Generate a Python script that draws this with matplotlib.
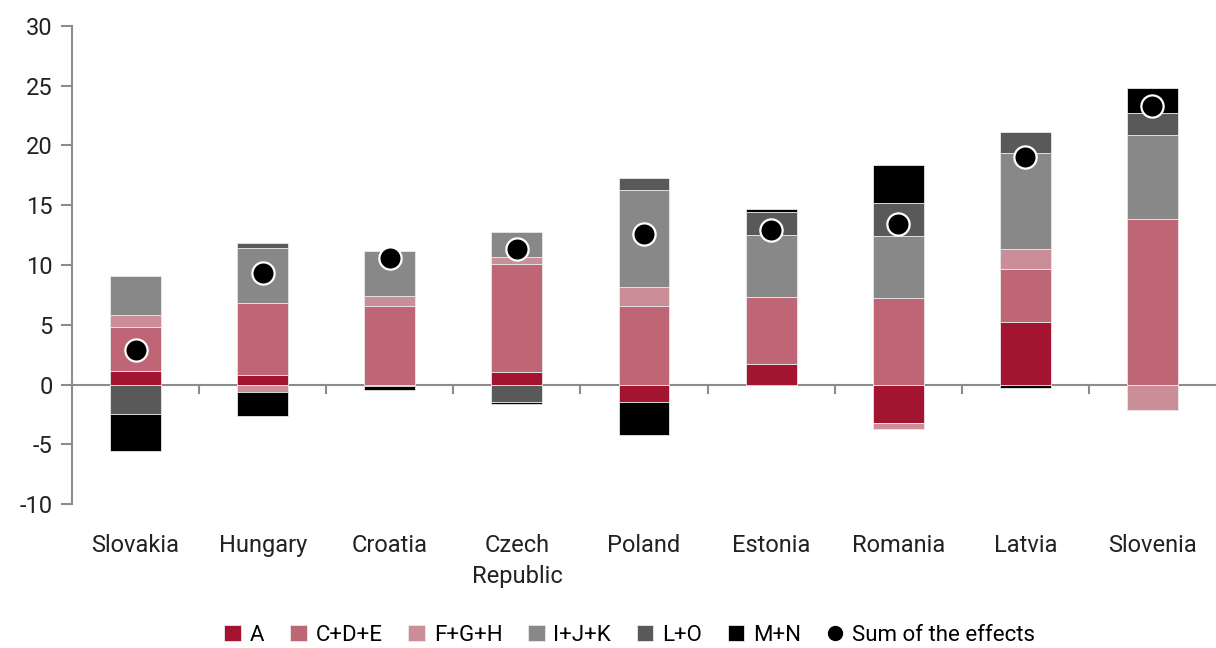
import numpy as np
import matplotlib.pyplot as plt
from matplotlib.lines import Line2D

countries = ['Slovakia', 'Hungary', 'Croatia', 'Czech\nRepublic', 'Poland',
             'Estonia', 'Romania', 'Latvia', 'Slovenia']

a_vals   = [1.1, 0.8, -0.15, 1.05, -1.43, 1.73, -3.24, 5.22, 0.0]
cde_vals = [3.7, 6.05, 6.6, 9.0, 6.57, 5.6, 7.24, 4.42, 13.83]
fgh_vals = [1.0, -0.6, 0.78, 0.65, 1.6, 0.0, -0.48, 1.68, -2.12]
ijk_vals = [3.25, 4.55, 3.75, 2.05, 8.1, 5.17, 5.16, 8.04, 7.04]
lo_vals  = [-2.5, 0.4, 0.0, -1.45, 0.98, 1.95, 2.77, 1.74, 1.82]
mn_vals  = [-3.1, -2.0, -0.3, -0.2, -2.8, 0.2, 3.24, -0.28, 2.16]
sum_vals = [2.9, 9.3, 10.55, 11.3, 12.6, 12.95, 13.4, 19.0, 23.3]

series = ['A', 'C+D+E', 'F+G+H', 'I+J+K', 'L+O', 'M+N']
colors = ['#a31430', '#be6676', '#c98e98', '#888888', '#595959', '#000000']
data = [a_vals, cde_vals, fgh_vals, ijk_vals, lo_vals, mn_vals]

plt.rcParams['font.family'] = ['Roboto', 'DejaVu Sans']
plt.rcParams['axes.unicode_minus'] = False

fig = plt.figure(figsize=(12.16, 6.48), dpi=100)
ax = fig.add_axes([72/1216, 1-504/648, 1-72/1216, (504-26)/648])

x = np.arange(len(countries))
pos_bot = np.zeros(len(countries))
neg_bot = np.zeros(len(countries))
handles = []
for name, col, vals in zip(series, colors, data):
    v = np.array(vals)
    bot = np.where(v >= 0, pos_bot, neg_bot)
    bars = ax.bar(x, v, 0.40, bottom=bot, color=col, edgecolor='#e8e8e8', linewidth=0.6,
                  label=name, zorder=2)
    handles.append(bars)
    pos_bot = pos_bot + np.where(v > 0, v, 0)
    neg_bot = neg_bot + np.where(v < 0, v, 0)

ax.plot(x, sum_vals, 'o', color='black', markeredgecolor='white', markeredgewidth=1.6,
        markersize=16, linestyle='none', zorder=3)
handles.append(Line2D([], [], marker='o', color='black', linestyle='none', markersize=10))

ax.set_xlim(-0.5, 8.5)
ax.set_ylim(-10, 30)
ax.set_yticks(range(-10, 31, 5))

gray = '#8c8c8c'
for s in ['top', 'right', 'bottom']:
    ax.spines[s].set_visible(False)
ax.spines['left'].set_color(gray)
ax.spines['left'].set_linewidth(1.5)
ax.axhline(0, color=gray, linewidth=1.5, zorder=1)
ax.tick_params(axis='y', colors=gray, length=8, width=1.5, labelsize=17,
               labelcolor='#222222', pad=6)

# category labels and separator ticks along zero line
ax.set_xticks([])
for xi, c in zip(x, countries):
    ax.text(xi, -12.5, c, ha='center', va='top', fontsize=17, color='#222222',
            linespacing=1.45)
for b in np.arange(0.5, 8.5, 1):
    ax.plot([b, b], [0, -0.75], color=gray, linewidth=1.5, zorder=1, clip_on=False)

fig.legend(handles, series + ['Sum of the effects'], loc='center',
           bbox_to_anchor=(0.518, 0.02), ncol=7, frameon=False, fontsize=16,
           handlelength=0.75, handleheight=0.75, handletextpad=0.4,
           columnspacing=1.15, borderaxespad=0)

fig.savefig('out.png', dpi=100)
